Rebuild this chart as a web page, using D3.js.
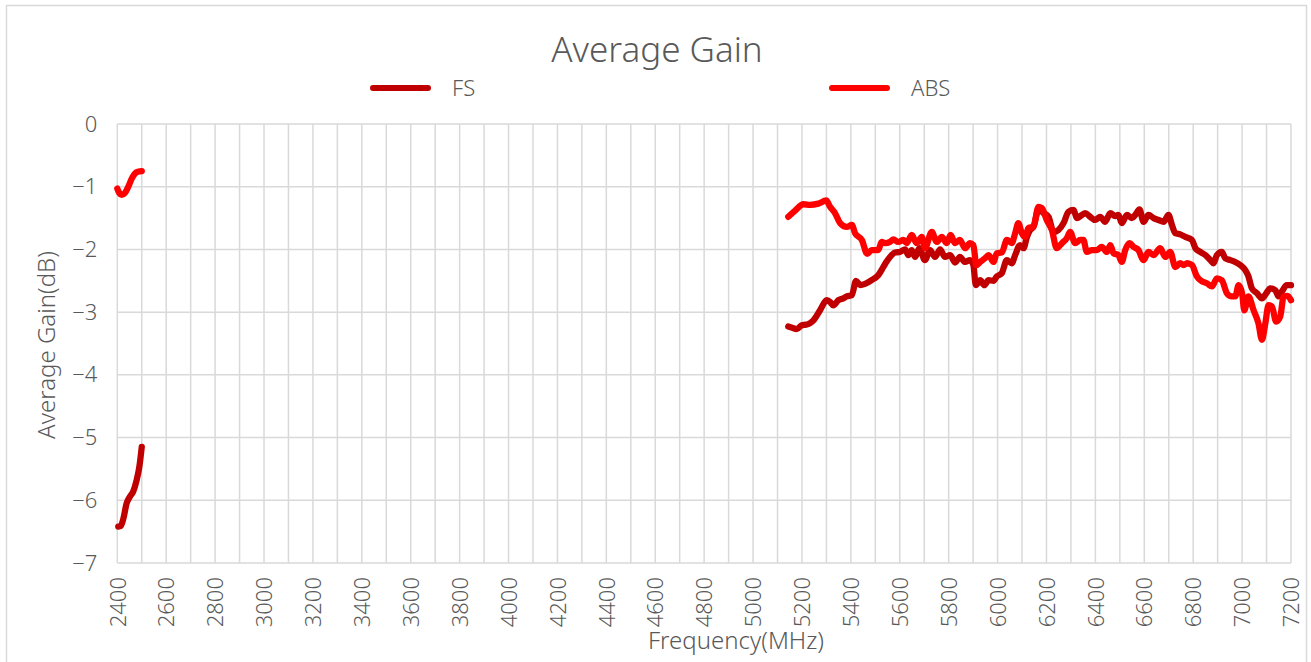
<!DOCTYPE html>
<html lang="en">
<head>
<meta charset="utf-8">
<title>Average Gain</title>
<script src="https://d3js.org/d3.v7.min.js"></script>
<style>
  body { margin: 0; background: #fff; }
  text { font-family: "Noto Sans", sans-serif; font-weight: 300; fill: #595959; }
</style>
</head>
<body>
<script>
// FS, low band then high band (null marks the gap)
var fsFreq = [2404, 2414, 2425, 2438, 2452, 2465, 2479, 2490, 2500,
  3800,
  5144, 5160, 5179, 5199, 5215, 5226, 5247, 5274, 5301, 5315, 5328, 5349, 5369, 5383, 5404, 5421, 5438, 5458, 5485, 5512,
  5533, 5545, 5560, 5581, 5601, 5622, 5635, 5649, 5663, 5680, 5703, 5724, 5744, 5765, 5785, 5806, 5826, 5846, 5867, 5887,
  5901, 5911, 5929, 5946, 5963, 5983, 5997, 6017, 6038, 6058, 6072, 6092, 6106, 6120, 6133, 6147, 6167, 6188, 6208, 6229,
  6249, 6270, 6290, 6311, 6324, 6345, 6358, 6379, 6399, 6420, 6440, 6461, 6481, 6494, 6508, 6529, 6549, 6563, 6580, 6597,
  6617, 6638, 6658, 6679, 6699, 6713, 6727, 6747, 6768, 6795, 6809, 6829, 6850, 6870, 6883, 6897, 6917, 6931, 6952, 6972,
  6993, 7013, 7026, 7040, 7061, 7081, 7099, 7115, 7136, 7149, 7163, 7183, 7200];
var fsGain = [-6.42, -6.41, -6.29, -6.05, -5.94, -5.86, -5.68, -5.47, -5.15,
  null,
  -3.23, -3.25, -3.27, -3.21, -3.20, -3.19, -3.13, -2.97, -2.81, -2.84, -2.89, -2.81, -2.78, -2.75, -2.73, -2.50, -2.57, -2.55, -2.49, -2.41,
  -2.28, -2.20, -2.12, -2.05, -2.04, -2.00, -2.09, -2.01, -2.12, -1.98, -2.17, -2.01, -2.12, -2.00, -2.12, -2.09, -2.21, -2.12, -2.20, -2.17,
  -2.25, -2.57, -2.49, -2.57, -2.49, -2.50, -2.43, -2.38, -2.17, -2.22, -2.09, -1.93, -1.98, -1.80, -1.69, -1.64, -1.37, -1.42, -1.48, -1.72,
  -1.69, -1.58, -1.40, -1.37, -1.50, -1.45, -1.42, -1.48, -1.53, -1.48, -1.56, -1.42, -1.47, -1.45, -1.58, -1.45, -1.50, -1.45, -1.36, -1.56,
  -1.45, -1.50, -1.53, -1.56, -1.45, -1.61, -1.74, -1.76, -1.80, -1.85, -1.98, -2.04, -2.09, -2.17, -2.22, -2.09, -2.04, -2.14, -2.17, -2.20,
  -2.25, -2.33, -2.43, -2.62, -2.70, -2.78, -2.70, -2.62, -2.65, -2.75, -2.67, -2.57, -2.57];

// ABS, low band then high band
var absFreq = [2400, 2408, 2418, 2431, 2445, 2459, 2472, 2486, 2500,
  3800,
  5144, 5172, 5206, 5233, 5267, 5299, 5315, 5335, 5356, 5383, 5404, 5417, 5445, 5467, 5485, 5512, 5526, 5540, 5560, 5574,
  5594, 5615, 5628, 5649, 5669, 5690, 5703, 5731, 5751, 5772, 5792, 5808, 5826, 5846, 5867, 5887, 5901, 5913, 5929, 5949,
  5963, 5983, 5997, 6017, 6038, 6058, 6072, 6085, 6099, 6113, 6126, 6147, 6167, 6181, 6201, 6222, 6242, 6263, 6283, 6297,
  6317, 6338, 6351, 6365, 6386, 6406, 6426, 6447, 6461, 6474, 6494, 6508, 6522, 6540, 6556, 6576, 6597, 6617, 6638, 6665,
  6686, 6706, 6727, 6747, 6761, 6775, 6795, 6815, 6836, 6856, 6877, 6897, 6917, 6938, 6958, 6972, 6986, 7000, 7009, 7026,
  7047, 7067, 7081, 7095, 7108, 7122, 7139, 7156, 7170, 7186, 7200];
var absGain = [-1.03, -1.10, -1.13, -1.10, -1.00, -0.87, -0.79, -0.76, -0.75,
  null,
  -1.48, -1.38, -1.28, -1.29, -1.27, -1.22, -1.32, -1.42, -1.58, -1.64, -1.61, -1.74, -1.85, -2.07, -2.01, -2.01, -1.88, -1.90, -1.88, -1.84,
  -1.88, -1.85, -1.90, -1.77, -1.90, -1.80, -1.98, -1.72, -1.88, -1.80, -1.90, -1.77, -1.90, -1.85, -1.98, -1.90, -1.93, -2.25, -2.20, -2.14,
  -2.09, -2.20, -2.06, -2.05, -1.85, -1.90, -1.74, -1.58, -1.74, -1.80, -1.66, -1.64, -1.32, -1.34, -1.53, -1.69, -1.98, -1.90, -1.82, -1.72,
  -1.90, -1.85, -1.85, -2.04, -2.01, -2.01, -1.96, -2.04, -1.93, -2.06, -2.09, -2.20, -2.01, -1.90, -1.96, -2.01, -2.17, -2.04, -2.09, -1.98,
  -2.12, -2.04, -2.28, -2.22, -2.25, -2.22, -2.25, -2.43, -2.51, -2.54, -2.59, -2.46, -2.49, -2.70, -2.75, -2.75, -2.57, -2.70, -2.97, -2.75,
  -2.97, -3.18, -3.44, -3.18, -2.89, -2.91, -3.15, -3.07, -2.75, -2.74, -2.81];

var seriesNames = ["FS", "ABS"];
var seriesColors = ["#C00000", "#FF0000"];
var xTicks = d3.range(2400, 7201, 200);
var yTicks = [0, -1, -2, -3, -4, -5, -6, -7];

var W = 1311, H = 662;
var margin = {top: 124, right: 20, bottom: 99, left: 117.3};

var svg = d3.select("body").append("svg")
  .attr("width", W)
  .attr("height", H);

svg.append("rect")
  .attr("x", 6.5).attr("y", 5.5)
  .attr("width", 1300).attr("height", 670)
  .attr("fill", "#fff")
  .attr("stroke", "#D9D9D9")
  .attr("stroke-width", 1.5);

var x = d3.scaleLinear().domain([2400, 7200]).range([margin.left, 1291]);
var y = d3.scaleLinear().domain([-7, 0]).range([563, margin.top]);

// grid
svg.append("g").selectAll("line.v")
  .data(d3.range(2400, 7201, 100))
  .enter().append("line")
  .attr("x1", function(d) { return x(d); })
  .attr("x2", function(d) { return x(d); })
  .attr("y1", y(0)).attr("y2", y(-7))
  .attr("stroke", "#D9D9D9").attr("stroke-width", 1.5);

svg.append("g").selectAll("line.h")
  .data(yTicks)
  .enter().append("line")
  .attr("x1", x(2400)).attr("x2", x(7200))
  .attr("y1", function(d) { return y(d); })
  .attr("y2", function(d) { return y(d); })
  .attr("stroke", "#D9D9D9").attr("stroke-width", 1.5);

// axes (labels only)
var yAxis = svg.append("g")
  .attr("transform", "translate(" + (margin.left - 17) + ",0)")
  .call(d3.axisLeft(y).tickValues(yTicks).tickSize(0).tickFormat(function(d) { return d === 0 ? "0" : "\u2212" + Math.abs(d); }));
yAxis.select(".domain").remove();
yAxis.selectAll("text").style("font-size", "22px").style("font-family", null).attr("fill", null);

var xAxis = svg.append("g")
  .attr("transform", "translate(0," + (y(-7) + 14) + ")")
  .call(d3.axisBottom(x).tickValues(xTicks).tickSize(0).tickFormat(d3.format("d")));
xAxis.select(".domain").remove();
xAxis.selectAll("text")
  .style("font-size", "22px").style("font-family", null).attr("fill", null)
  .attr("transform", "rotate(-90)")
  .attr("text-anchor", "end")
  .attr("x", 0).attr("y", 0).attr("dy", "0.35em");

// lines
var line = d3.line()
  .defined(function(d) { return d[1] !== null; })
  .x(function(d) { return x(d[0]); })
  .y(function(d) { return y(d[1]); })
  .curve(d3.curveMonotoneX);

var series = [
  fsFreq.map(function(f, i) { return [f, fsGain[i]]; }),
  absFreq.map(function(f, i) { return [f, absGain[i]]; })
];

svg.append("g").selectAll("path")
  .data(series)
  .enter().append("path")
  .attr("d", line)
  .attr("fill", "none")
  .attr("stroke", function(d, i) { return seriesColors[i]; })
  .attr("stroke-width", 6.3)
  .attr("stroke-linejoin", "round")
  .attr("stroke-linecap", "round");

// title
svg.append("text")
  .attr("x", 657).attr("y", 62)
  .attr("text-anchor", "middle")
  .style("font-size", "35px")
  .text("Average Gain");

// legend
var legendX = [373, 832];
var legend = svg.selectAll(".legend")
  .data(seriesNames)
  .enter().append("g")
  .attr("class", "legend")
  .attr("transform", function(d, i) { return "translate(" + legendX[i] + ",88)"; });
legend.append("line")
  .attr("x1", 0).attr("x2", 55)
  .attr("stroke", function(d, i) { return seriesColors[i]; })
  .attr("stroke-width", 6)
  .attr("stroke-linecap", "round");
legend.append("text")
  .attr("x", 79).attr("y", 8)
  .style("font-size", "22px")
  .text(function(d) { return d; });

// axis titles
svg.append("text")
  .attr("transform", "translate(55,345)rotate(-90)")
  .attr("text-anchor", "middle")
  .style("font-size", "24px")
  .text("Average Gain(dB)");

svg.append("text")
  .attr("x", 736).attr("y", 649)
  .attr("text-anchor", "middle")
  .style("font-size", "24px")
  .text("Frequency(MHz)");
</script>
</body>
</html>
